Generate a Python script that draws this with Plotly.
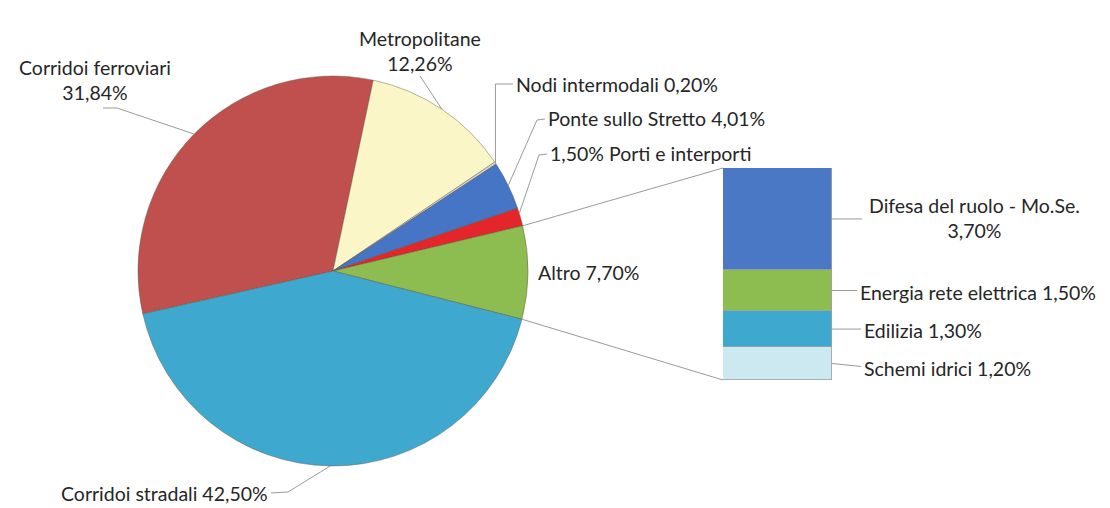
import math
import plotly.graph_objects as go

W, H = 1110, 508

# Main pie: shares of the total (%), listed clockwise
pie_labels = ["Corridoi ferroviari", "Metropolitane", "Nodi intermodali",
              "Ponte sullo Stretto", "Porti e interporti", "Altro",
              "Corridoi stradali"]
pie_values = [31.84, 12.26, 0.20, 4.01, 1.50, 7.70, 42.50]
pie_texts = ["Corridoi ferroviari<br>31,84%", "Metropolitane<br>12,26%",
             "Nodi intermodali 0,20%", "Ponte sullo Stretto 4,01%",
             "1,50% Porti e interporti", "Altro 7,70%",
             "Corridoi stradali 42,50%"]
pie_colors = ["#c0504d", "#fbf6c8", "#d8d8cc", "#4775c6", "#e4262b",
              "#8dbd50", "#3fa8cf"]

# Breakdown of "Altro" (stacked bar, bottom to top)
bar_labels = ["Schemi idrici", "Edilizia", "Energia rete elettrica",
              "Difesa del ruolo - Mo.Se."]
bar_values = [1.20, 1.30, 1.50, 3.70]
bar_texts = ["Schemi idrici 1,20%", "Edilizia 1,30%",
             "Energia rete elettrica 1,50%",
             "Difesa del ruolo - Mo.Se.<br>3,70%"]
bar_colors = ["#cce8f1", "#3fa8cf", "#8dbd50", "#4a78c5"]

# Layout geometry (pixels)
CX, CY, R = 333, 271, 195
ROT = -102.7
BX0, BX1, BYT, BYB = 723, 832, 168, 380
FONT = dict(family="Lato, 'Open Sans', sans-serif", size=19.5, color="#262626")
LINE = dict(color="#9a9a9a", width=1)


def paper(x, y):
    return x / W, 1 - y / H


def edge(frac, rr=R):
    th = math.radians(90 - (ROT + 360 * frac))
    return CX + rr * math.cos(th), CY - rr * math.sin(th)


total = sum(pie_values)
starts = []
acc = 0
for v in pie_values:
    starts.append(acc / total)
    acc += v
widths = [v / total for v in pie_values]


def slice_point(i, t=0.5):
    return edge(starts[i] + t * widths[i])


fig = go.Figure()

px0, py0 = paper(CX - R, CY + R)
px1, py1 = paper(CX + R, CY - R)
fig.add_trace(go.Pie(
    labels=pie_labels, values=pie_values, sort=False,
    direction="clockwise", rotation=ROT,
    marker=dict(colors=pie_colors, line=dict(color="rgba(90,80,70,0.55)", width=0.8)),
    textinfo="none", hoverinfo="label+percent", showlegend=False,
    domain=dict(x=[px0, px1], y=[py0, py1]),
))

for v, c, name in zip(bar_values, bar_colors, bar_labels):
    fig.add_trace(go.Bar(
        x=[0], y=[v], name=name, width=1,
        marker=dict(color=c, line=dict(color="#9aa4a8", width=0.8)),
        showlegend=False, xaxis="x", yaxis="y",
    ))

bx0, by0 = paper(BX0, BYB)
bx1, by1 = paper(BX1, BYT)
bar_total = sum(bar_values)


def bar_y(val):
    return BYB - (BYB - BYT) * val / bar_total


shapes = []


def path(points):
    pts = [paper(x, y) for x, y in points]
    d = "M " + " L ".join(f"{x:.5f},{y:.5f}" for x, y in pts)
    shapes.append(dict(type="path", path=d, xref="paper", yref="paper",
                       line=LINE, layer="above"))


annotations = []


def label(text, x, y, anchor="left"):
    ax, ay = paper(x, y)
    annotations.append(dict(text=text, x=ax, y=ay, xref="paper", yref="paper",
                            xanchor=anchor, yanchor="middle", showarrow=False,
                            font=FONT, align="center"))


# Pie labels and leader lines
label(pie_texts[0], 95, 80, "center")
path([(103, 108), (117, 108), slice_point(0)])

label(pie_texts[1], 420, 51, "center")
path([(420, 76), slice_point(1)])

p = slice_point(2)
label(pie_texts[2], 514, 84)
path([(513, 84), (p[0], 84), p])

label(pie_texts[3], 546, 118)
path([(545, 119), (537, 120), slice_point(3)])

label(pie_texts[4], 548, 153)
path([(547, 154), (539, 155), slice_point(4, 0.3)])

label(pie_texts[5], 536, 272)

label(pie_texts[6], 270, 493, "right")
path([(271, 493), (288, 492), slice_point(6)])

# Connectors from the "Altro" slice to the breakdown bar
path([edge(starts[5]), (BX0, BYT)])
path([edge(starts[5] + widths[5]), (BX0, BYB)])

# Bar labels and leader lines
cum = 0
mids = []
for v in bar_values:
    mids.append(bar_y(cum + v / 2))
    cum += v

label(bar_texts[3], 974, 218, "center")
path([(BX1, mids[3]), (862, mids[3])])
label(bar_texts[2], 858, 292)
path([(BX1, mids[2]), (857, mids[2])])
label(bar_texts[1], 862, 330)
path([(BX1, mids[1]), (861, mids[1])])
label(bar_texts[0], 862, 368)
path([(BX1, mids[0]), (861, mids[0] + 3)])

fig.update_layout(
    width=W, height=H, margin=dict(l=0, r=0, t=0, b=0),
    paper_bgcolor="white", plot_bgcolor="rgba(0,0,0,0)",
    barmode="stack", bargap=0,
    xaxis=dict(domain=[bx0, bx1], range=[-0.5, 0.5], visible=False, fixedrange=True),
    yaxis=dict(domain=[by0, by1], range=[0, bar_total], visible=False, fixedrange=True),
    shapes=shapes, annotations=annotations,
)

fig.write_html("out.html")
